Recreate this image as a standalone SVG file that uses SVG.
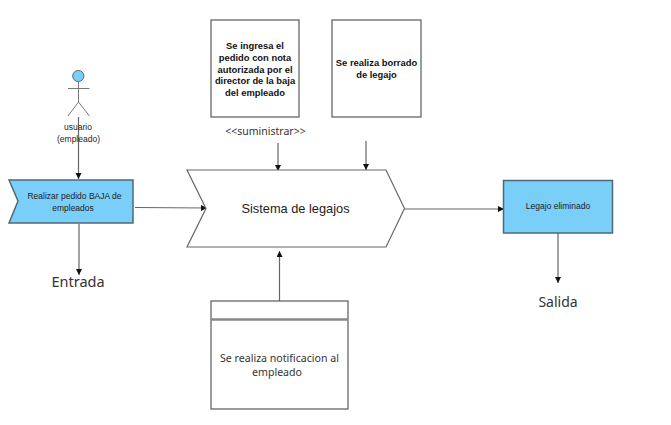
<svg xmlns="http://www.w3.org/2000/svg" width="671" height="425" viewBox="0 0 671 425">
<defs>
<marker id="arrow" markerUnits="userSpaceOnUse" markerWidth="7" markerHeight="7" refX="6" refY="3" orient="auto"><path d="M0 0L6 3L0 6Z" fill="#111"/></marker>
</defs>
<style>
text{font-family:"Liberation Sans",Arial,sans-serif;text-anchor:middle;fill:#222}
.ns{font-family:"Noto Sans","Open Sans",sans-serif;fill:#333}
.b{font-weight:700;font-size:9.400px;fill:#111}
.box{fill:#fff;stroke:#666;stroke-width:1.3}
.blue{fill:#79cff8;stroke:#4d6a78;stroke-width:1.5}
.conn{fill:none;stroke:#666;stroke-width:1.2;marker-end:url(#arrow)}
.act{fill:none;stroke:#777;stroke-width:1}
.s{font-size:8.500px}
</style>
<rect width="671" height="425" fill="#fff"/>
<g id="connectors">
<path class="conn" d="M78.500 117V179"/>
<path class="conn" d="M79 224V275"/>
<path class="conn" d="M135 207.500L207 208"/>
<path class="conn" d="M278 143V171"/>
<path class="conn" d="M366 141V170"/>
<path class="conn" d="M279.500 301V251"/>
<path class="conn" d="M405 209H504"/>
<path class="conn" d="M558 233V283"/>
</g>
<g id="actor">
<circle cx="78.300" cy="76" r="5.600" fill="#79cff8" stroke="#666"/>
<path class="act" d="M78.500 82V102M68 88.500H89.500M68 116L78.500 102L89.500 116"/>
<text class="s" x="78" y="130">usuario</text>
<text class="s" x="78.500" y="142">(empleado)</text>
</g>
<g id="entrada-proceso">
<path class="blue" d="M9 180H133V223H9L18 201Z"/>
<text class="s" x="74.500" y="199">Realizar pedido BAJA de</text>
<text class="s" x="73" y="211">empleados</text>
</g>
<g id="entrada-label"><text class="ns" x="78" y="287" font-size="14.500">Entrada</text></g>
<g id="nota-ingreso">
<rect class="box" x="211" y="20" width="88" height="97"/>
<text class="b" x="255" y="49">Se ingresa el</text>
<text class="b" x="255" y="61">pedido con nota</text>
<text class="b" x="255" y="72.500">autorizada por el</text>
<text class="b" x="255" y="84">director de la baja</text>
<text class="b" x="255" y="96">del empleado</text>
</g>
<g id="nota-borrado">
<rect class="box" x="332" y="20" width="89" height="97"/>
<text class="b" x="376.500" y="66">Se realiza borrado</text>
<text class="b" x="376.500" y="78">de legajo</text>
</g>
<g id="suministrar"><text class="ns" x="265.500" y="134.500" font-size="10.500">&lt;&lt;suministrar&gt;&gt;</text></g>
<g id="sistema">
<path d="M187 170H386L404.500 208.500L386 247H187L206 208.500Z" fill="#fff" stroke="#666" stroke-width="1.200"/>
<text x="295.500" y="213" font-size="12.800">Sistema de legajos</text>
</g>
<g id="notificacion">
<rect class="box" x="211" y="301" width="137" height="108"/>
<path d="M211 319.500H348" stroke="#888" stroke-width="2.400"/>
<text class="ns" x="279.500" y="361.500" font-size="10.600">Se realiza notificacion al</text>
<text class="ns" x="277" y="376" font-size="10.600">empleado</text>
</g>
<g id="legajo">
<rect class="blue" x="503.500" y="180.500" width="109" height="52.500"/>
<text class="s" x="558" y="209">Legajo eliminado</text>
</g>
<g id="salida-label"><text class="ns" x="558" y="307" font-size="14">Salida</text></g>
</svg>
